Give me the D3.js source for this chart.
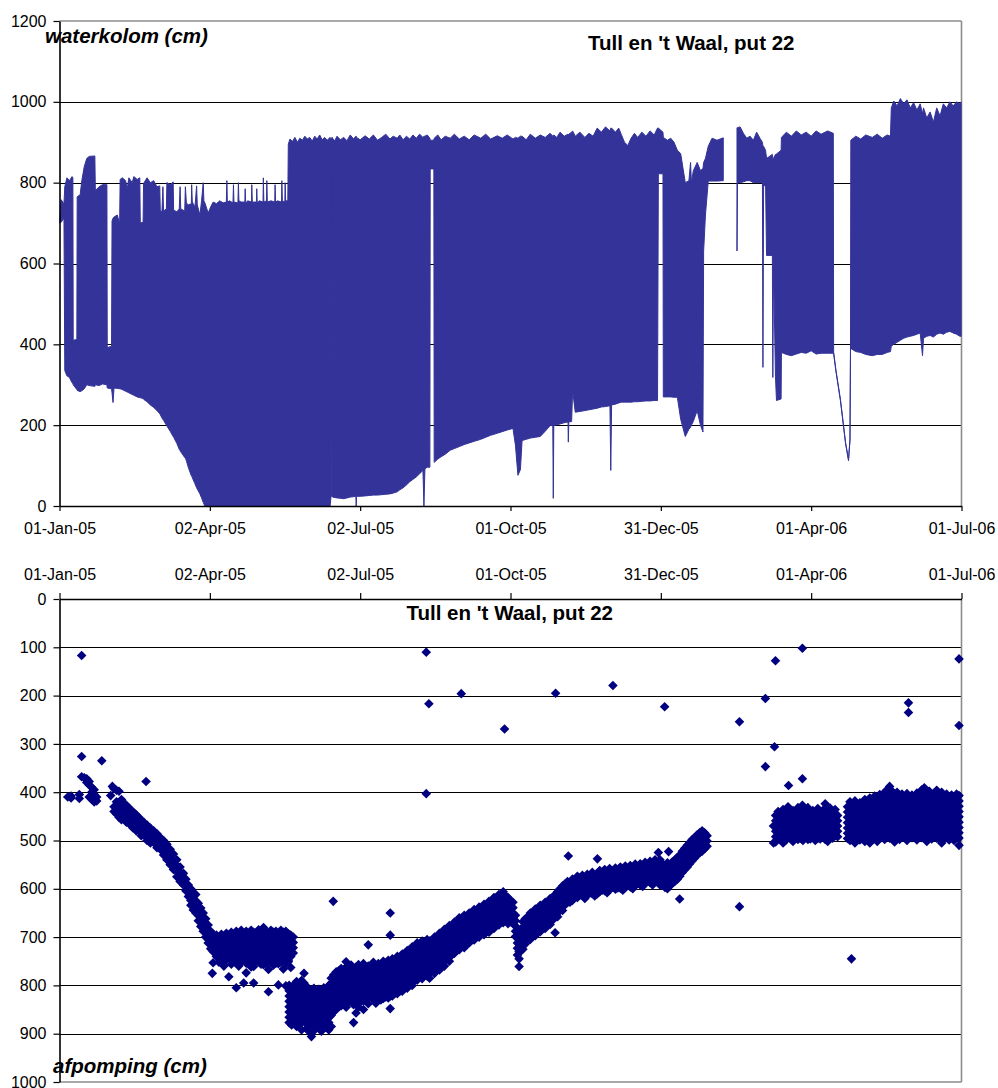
<!DOCTYPE html>
<html>
<head>
<meta charset="utf-8">
<script src="https://cdn.jsdelivr.net/npm/d3@7"></script>
<style>
  body { margin: 0; background: #fff; }
  text { font-family: "Liberation Sans", Arial, sans-serif; }
</style>
</head>
<body>
<svg id="chart" width="998" height="1088"></svg>
<script>
// ---- data ---------------------------------------------------------------
const titel = "Tull en 't Waal, put 22";
const tijdTicks = ["2005-01-01", "2005-04-02", "2005-07-02", "2005-10-01", "2005-12-31", "2006-04-01", "2006-07-01"];
const waterkolomTicks = [0, 200, 400, 600, 800, 1000, 1200];
const afpompingTicks = [0, 100, 200, 300, 400, 500, 600, 700, 800, 900, 1000];

// Waterkolom (cm): [dag sinds 1 jan 2005, maximum, minimum] van het snel
// wisselende pompsignaal; null = geen meting.
const waterkolom = [
  [0, 712, 700], [1, 758, 702], [2.7, 748, 712],
  [3.2, 790, 335], [4.5, 812, 322], [6, 805, 318], [7.6, 815, 305], [8.1, 812, 303],
  [8.3, 410, 300], [10.5, 412, 288],
  [10.7, 765, 286], [12.5, 770, 283], [13.5, 805, 285], [15, 840, 290], [16.5, 860, 300],
  [18, 865, 298], [21.4, 866, 296],
  [21.7, 780, 300], [24, 790, 298], [26, 795, 302], [28.7, 795, 300],
  [28.9, 392, 292], [31.5, 395, 290],
  [31.8, 705, 280], [32.4, 712, 256], [33, 715, 292], [35, 720, 291], [36.4, 698, 290],
  [36.7, 808, 290], [38, 812, 288], [40, 805, 284], [41, 785, 282], [42, 812, 280], [44, 800, 276],
  [45, 815, 274], [47, 808, 270], [48.6, 812, 268],
  [48.9, 700, 268], [50.6, 702, 266],
  [50.9, 798, 264], [53, 812, 258], [55, 800, 250], [57, 805, 244], [59, 790, 236], [60.7, 792, 228],
  [61, 732, 226], [62, 728, 218], [62.6, 790, 214], [63, 730, 212], [64.7, 735, 200],
  [65, 800, 198], [67, 795, 185], [68.8, 802, 172],
  [69.1, 732, 170], [71, 728, 155], [72.5, 735, 140], [73, 790, 137], [73.4, 735, 134], [75.8, 730, 120],
  [76.2, 790, 118], [76.8, 750, 112], [78, 745, 95], [79.8, 748, 75], [80, 795, 74], [80.4, 752, 70],
  [82, 740, 55], [83, 792, 45], [83.4, 745, 42], [85, 720, 30], [86, 755, 20], [87, 800, 9], [87.4, 755, 5],
  [88, 750, 0], [90, 725, 0], [91.5, 740, 0], [93, 752, 0],
  [95, 748, 0], [97, 755, 0], [99, 750, 0], [101, 752, 0], [101.3, 805, 0], [101.6, 752, 0],
  [103, 755, 0], [105, 750, 0], [105.3, 795, 0], [105.6, 752, 0], [108, 750, 0], [108.3, 800, 0], [108.6, 755, 0],
  [110, 752, 0], [112.2, 752, 0], [112.4, 785, 0], [112.7, 750, 0], [114, 755, 0],
  [116.2, 752, 0], [116.4, 795, 0], [116.7, 752, 0], [119.2, 752, 0], [119.4, 785, 0], [119.7, 750, 0],
  [121, 755, 0], [123.2, 752, 0], [123.4, 812, 0], [123.7, 752, 0], [125.3, 755, 0], [125.5, 805, 0],
  [125.8, 752, 0], [128, 755, 0], [130.3, 752, 0], [130.5, 795, 0], [130.8, 752, 0], [132, 755, 0],
  [134.4, 752, 0], [134.6, 805, 0], [134.9, 755, 0], [136.4, 752, 0], [136.6, 800, 0], [136.9, 755, 0],
  [138.2, 755, 0],
  [138.5, 895, 0], [139.5, 908, 0], [141, 902, 0], [142.5, 912, 0], [144, 900, 0], [145.5, 910, 0],
  [147, 905, 0], [148.5, 915, 0], [150, 908, 0], [151.5, 912, 0], [153, 903, 0], [154.5, 915, 0],
  [156, 908, 0], [157.5, 918, 0], [159, 906, 0], [160.5, 912, 0], [162, 905, 0], [163.8, 912, 0],
  [164.4, 908, 25], [164.9, 912, 24], [165.1, 912, 805], [165.3, 910, 22],
  [166.5, 903, 21], [168, 915, 20], [170, 906, 19], [172, 912, 18], [174, 904, 20], [176, 918, 22],
  [178, 908, 23], [179.4, 915, 24], [179.6, 915, 0], [179.8, 912, 24],
  [182, 906, 24], [185, 916, 25], [187.5, 908, 26], [190, 918, 27], [192.5, 905, 27], [195, 912, 28],
  [197.5, 920, 29], [200, 908, 30], [202, 915, 32], [204.4, 910, 35], [206, 918, 40], [208, 906, 45],
  [210, 915, 52], [212, 908, 60], [214, 918, 66], [216, 910, 72], [218, 920, 80], [220, 912, 88],
  [220.6, 915, 0], [221.2, 915, 92], [222.6, 918, 96], [224.2, 910, 96],
  [224.4, 905, 834], [226.6, 905, 834],
  [226.8, 910, 108], [229, 918, 116], [231, 906, 122], [233.5, 915, 128], [236.5, 910, 138],
  [239, 920, 142], [242, 908, 147], [245, 915, 152], [248, 906, 156], [251, 918, 160], [255, 910, 165],
  [258, 920, 170], [261, 908, 175], [265, 916, 180], [268, 910, 184], [271, 918, 188], [274.5, 908, 192],
  [276, 912, 150], [277.5, 910, 76], [279, 915, 90],
  [280, 915, 162], [282.5, 906, 165], [285, 920, 168], [288, 910, 170], [291, 918, 172], [294, 912, 185],
  [297, 922, 199], [298.6, 915, 199], [298.9, 915, 19], [299.2, 918, 199],
  [301, 912, 201], [303, 925, 203], [305.5, 915, 206], [307.8, 920, 208], [308, 918, 158], [308.3, 920, 208],
  [310, 925, 209], [310.6, 928, 286], [312.2, 915, 232], [315, 925, 234], [318, 912, 236], [320.5, 922, 238],
  [323, 915, 240], [325.5, 935, 242], [328, 925, 245], [330.5, 938, 246],
  [333.2, 928, 248], [333.7, 935, 88], [334.2, 935, 250],
  [336.5, 925, 252], [338.5, 935, 255], [340, 920, 257], [342, 900, 257], [344, 892, 257], [346, 910, 257],
  [348, 922, 258], [350, 912, 258], [352.5, 925, 259], [355, 915, 260], [357.5, 928, 260], [360, 918, 261],
  [362, 935, 261],
  [362.5, 935, 822], [365.3, 925, 822],
  [365.5, 912, 270], [368, 905, 270], [370, 910, 270], [372, 900, 269], [374, 880, 269], [376, 872, 215],
  [378.8, 800, 172], [381, 805, 190], [382, 850, 195], [382.5, 800, 200], [383.7, 830, 210], [386, 850, 236],
  [388, 830, 200], [389.5, 835, 183],
  [389.9, 850, 630], [391, 860, 720], [392.7, 890, 804], [395, 910, 804], [398, 905, 804], [401.8, 911, 805],
  [402, null, null],
  [410.1, 936, 631], [410.4, 936, 800],
  [412, 938, 800], [414, 922, 802], [416, 910, 805], [418, 915, 805], [420, 905, 800], [422, 925, 800],
  [424, 910, 800], [425.5, 900, 800],
  [425.8, 890, 343], [426.2, 890, 790], [427.4, 880, 795],
  [428, 860, 620], [431.5, 870, 620], [431.8, 860, 318], [432.2, 860, 600],
  [433.4, 870, 320], [434, 871, 261], [436.8, 880, 265],
  [437, 912, 380], [440, 925, 375], [443, 915, 372], [446, 928, 376], [449, 918, 380], [452, 925, 378],
  [455, 915, 384], [458, 928, 376], [461, 920, 378], [465, 928, 378], [468.4, 922, 378],
  [468.6, 381, 377], [470, 336, 333], [472.7, 264, 261], [475.8, 158, 155], [477.6, 115, 112],
  [478.5, 166, 163], [478.8, 388, 385],
  [479, 905, 390], [482, 915, 382], [485, 908, 380], [488, 918, 375], [492, 912, 372], [495, 920, 375],
  [498, 910, 375], [501, 918, 380], [503, 915, 382],
  [503.5, 985, 395], [505, 1002, 400], [507, 990, 405], [509, 1008, 410], [511, 995, 415], [513, 1005, 418],
  [515, 985, 420], [517, 998, 422], [519, 980, 425], [521, 995, 428], [522.4, 970, 372], [523, 985, 415],
  [525, 960, 420], [527, 975, 422], [529, 950, 418], [531, 985, 425], [533, 965, 428], [535, 995, 425],
  [537, 985, 430], [539, 1000, 432], [541, 990, 428], [543, 1000, 425], [545, 995, 420], [546, 1000, 420]
];

// Afpomping (cm): [dag sinds 1 jan 2005, waarden op die dag...]
const afpomping = [
  [5, 410], [7, 412, 408], [12, 405, 413], [13.4, 117, 326, 368], [15, 370],
  [16.5, 372, 380], [18, 378, 385, 410], [19.5, 390, 400, 415], [21, 395, 405, 420],
  [22.5, 410, 418], [25.6, 335], [31, 407], [32, 388], [33, 393, 430, 440],
  [34.5, 396, 420, 432, 445], [36, 398, 425, 438, 452], [37.5, 415, 428, 442, 457],
  [39, 422, 434, 446, 455], [40.5, 428, 440, 452, 462], [42, 432, 445, 458], [43.5, 438, 450, 462, 470],
  [44.5, 474], [45, 442, 455, 466], [46.5, 447, 460, 472, 480], [48, 452, 465, 478],
  [49.5, 458, 470, 482, 490], [51, 462, 475, 488], [52.4, 378], [53, 468, 480, 492, 500],
  [55, 474, 486, 498, 505], [57, 480, 492, 504], [59, 486, 498, 510, 515], [61, 494, 506, 518],
  [63, 500, 512, 524, 530], [65, 508, 520, 532, 540], [67, 518, 530, 542, 550], [69, 528, 540, 552, 560],
  [71, 540, 552, 564, 575], [73, 555, 567, 579, 585], [75, 568, 580, 592], [76.5, 580, 592, 604],
  [78, 592, 604, 616], [79.5, 600, 612, 624, 634], [81, 608, 620, 632, 644], [82.5, 612, 625, 638, 650],
  [84, 630, 642, 655, 666], [85.5, 640, 652, 665, 678], [87, 650, 662, 675, 688], [88.5, 662, 674, 686, 700],
  [90, 675, 687, 699, 712], [91.5, 688, 700, 712, 724], [92.5, 775], [93, 694, 706, 718, 730, 753],
  [95, 696, 707, 718, 729, 740], [96.5, 702, 713, 724, 735, 752], [98, 694, 705, 716, 727, 738, 749],
  [99.5, 700, 711, 722, 733, 744, 760], [101, 692, 703, 714, 725, 736, 747],
  [102.5, 697, 708, 719, 730, 741, 782], [104, 690, 701, 712, 723, 734, 745, 756],
  [105.5, 695, 706, 717, 728, 739, 750], [107, 688, 699, 710, 721, 732, 743, 754, 805],
  [108.5, 694, 705, 716, 727, 738, 749, 760], [110, 686, 697, 708, 719, 730, 741, 752],
  [111.5, 692, 703, 714, 725, 736, 747, 795], [113, 688, 699, 710, 721, 732, 743, 754, 774],
  [114.5, 694, 705, 716, 727, 738, 749], [116, 686, 697, 708, 719, 730, 741, 752, 762],
  [117.5, 690, 701, 712, 723, 734, 745, 761, 795], [119, 695, 706, 717, 728, 739, 750],
  [120.5, 685, 696, 707, 718, 729, 740, 751], [122, 690, 701, 712, 723, 734, 745, 756],
  [123.5, 680, 692, 703, 714, 725, 736, 747, 757], [125, 688, 699, 710, 721, 732, 743, 754],
  [126.5, 693, 704, 715, 726, 737, 748, 767, 813], [128, 686, 697, 708, 719, 730, 741, 752],
  [129.5, 690, 701, 712, 723, 734, 745, 758], [131, 688, 699, 710, 721, 732, 743, 754],
  [132.5, 693, 704, 715, 726, 737, 748, 755, 799], [134, 686, 697, 708, 719, 730, 741, 752],
  [135.5, 690, 701, 712, 723, 734, 745, 766], [137, 688, 699, 710, 721, 732, 743, 754, 801],
  [138.5, 693, 704, 715, 726, 737, 748, 751], [140, 696, 707, 718, 729, 740, 763], [141.5, 700, 711, 722, 733],
  [139, 800, 811, 822, 833, 844, 855, 866, 877], [140.5, 806, 817, 828, 839, 850, 861, 872, 882],
  [142, 798, 809, 820, 831, 842, 853, 864, 875], [143.5, 792, 803, 814, 825, 836, 847, 858, 869, 885],
  [145, 797, 808, 819, 830, 841, 852, 863, 874], [146.5, 790, 801, 812, 823, 834, 845, 856, 867, 878, 892],
  [148, 775, 795, 806, 817, 828, 839, 850, 861, 872], [149.5, 802, 813, 824, 835, 846, 857, 868, 879, 890],
  [151, 808, 819, 830, 841, 852, 863, 874, 885, 895], [152.5, 812, 823, 834, 845, 856, 867, 878, 889, 906],
  [154, 806, 817, 828, 839, 850, 861, 872, 883, 894], [155.5, 815, 826, 837, 848, 859, 870, 881],
  [157, 808, 819, 830, 841, 852, 863, 874, 885], [158.5, 812, 823, 834, 845, 856, 867, 878, 889, 895],
  [160, 805, 816, 827, 838, 849, 860, 871, 882], [161.5, 810, 821, 832, 843, 854, 865, 876, 887],
  [163, 800, 811, 822, 833, 844, 855, 866, 877, 892], [164.5, 785, 796, 807, 818, 829, 840, 851, 862, 885],
  [165.7, 626], [166, 778, 789, 800, 811, 822, 833, 844, 855], [167.5, 772, 783, 794, 805, 816, 827, 838, 849],
  [169, 770, 781, 792, 803, 814, 825, 836, 845],
  [170.5, 765, 776, 787, 798, 809, 820, 831, 842], [172, 770, 781, 792, 803, 814, 825, 836],
  [173.5, 751, 762, 773, 784, 795, 806, 817, 828, 845], [175, 768, 779, 790, 801, 812, 823, 834],
  [176.5, 758, 769, 780, 791, 802, 813, 824, 835], [178, 770, 781, 792, 803, 814, 825, 840, 877],
  [179.5, 762, 773, 784, 795, 806, 817, 828, 857], [181, 757, 768, 779, 790, 801, 812, 823, 834, 845],
  [182.5, 768, 779, 790, 801, 812, 823, 833], [184, 755, 766, 777, 788, 799, 810, 821, 832, 850],
  [185.5, 765, 776, 787, 798, 809, 820, 831], [186.9, 716, 760, 771, 782, 793, 804, 815, 826, 838],
  [188.5, 768, 779, 790, 801, 812, 823], [190, 752, 763, 774, 785, 796, 807, 818, 829],
  [191.5, 760, 771, 782, 793, 804, 815, 826, 837], [193, 755, 766, 777, 788, 799, 810, 821],
  [194.5, 762, 773, 784, 795, 806, 817, 830], [196, 750, 761, 772, 783, 794, 805, 816, 827],
  [197.5, 758, 769, 780, 791, 802, 813, 824], [199, 748, 759, 770, 781, 792, 803, 814, 826],
  [200.2, 650, 696, 756, 767, 778, 789, 800, 811, 822, 848], [201.5, 745, 756, 767, 778, 789, 800, 811, 822],
  [203, 752, 763, 774, 785, 796, 807, 816], [204.5, 740, 751, 762, 773, 784, 795, 806, 817],
  [206, 746, 757, 768, 779, 790, 801, 812], [207.5, 735, 746, 757, 768, 779, 790, 801, 812],
  [209, 740, 751, 762, 773, 784, 795, 805], [210.5, 728, 739, 750, 761, 772, 783, 794, 806],
  [212, 732, 743, 754, 765, 776, 787, 796], [213.5, 720, 731, 742, 753, 764, 775, 786, 800],
  [215, 725, 736, 747, 758, 769, 780, 790], [216.5, 712, 723, 734, 745, 756, 767, 778, 789],
  [218, 718, 729, 740, 751, 762, 773, 782], [219.5, 708, 719, 730, 741, 752, 763, 774, 786],
  [221, 712, 723, 734, 745, 756, 767, 775], [222, 110, 403], [222.5, 705, 716, 727, 738, 749, 760, 771, 780],
  [223.6, 217],
  [224, 708, 719, 730, 741, 752, 763, 774, 785], [225.5, 712, 723, 734, 745, 756, 767],
  [227, 700, 711, 722, 733, 744, 755, 766, 775], [228.5, 703, 714, 725, 736, 747, 758],
  [230, 692, 703, 714, 725, 736, 747, 758, 768], [231.5, 695, 706, 717, 728, 739, 750],
  [233, 684, 695, 706, 717, 728, 739, 750, 760], [234.5, 688, 699, 710, 721, 732, 743],
  [236, 676, 687, 698, 709, 720, 731, 742, 750], [237.5, 680, 691, 702, 713, 724, 735],
  [239, 669, 680, 691, 702, 713, 724, 734], [240.5, 672, 683, 694, 705, 716, 727],
  [242, 660, 671, 682, 693, 704, 715, 726], [243.2, 196], [243.5, 666, 677, 688, 699, 710, 720],
  [245, 655, 666, 677, 688, 699, 710, 722], [246.5, 660, 671, 682, 693, 704, 714],
  [248, 650, 661, 672, 683, 694, 705, 712], [249.5, 655, 666, 677, 688, 699],
  [251, 643, 654, 665, 676, 687, 698, 706], [252.5, 648, 659, 670, 681, 692],
  [254, 638, 649, 660, 671, 682, 693, 700], [255.5, 645, 656, 667, 678, 689],
  [257, 632, 643, 654, 665, 676, 687, 695], [258.5, 638, 649, 660, 671, 682],
  [260, 626, 637, 648, 659, 670, 681, 690], [261.5, 630, 641, 652, 663, 674],
  [263, 618, 629, 640, 651, 662, 673, 682], [264.5, 622, 633, 644, 655, 666],
  [266, 612, 623, 634, 645, 656, 667, 675], [267.5, 616, 627, 638, 649, 660],
  [268.6, 606, 617, 628, 639, 650, 661, 670], [269.4, 269], [270, 614, 625, 636, 647, 658],
  [271.5, 618, 629, 640, 651, 662, 672], [273, 624, 635, 646, 657, 668], [274.5, 628, 639, 650, 661, 672],
  [276, 655, 666, 677, 688, 699], [277.2, 690, 701, 712, 723, 737],
  [278.2, 700, 715, 730, 745, 761], [279.2, 685, 696, 707, 718, 729],
  [280.5, 668, 679, 690, 701, 712, 725], [282, 662, 673, 684, 695, 706, 714], [283.5, 658, 669, 680, 691, 702],
  [285, 650, 661, 672, 683, 694, 705], [286.5, 654, 665, 676, 687, 694], [288, 642, 653, 664, 675, 686, 697],
  [289.5, 646, 657, 668, 679, 686], [291, 634, 645, 656, 667, 678, 689], [292.5, 640, 651, 662, 673, 680],
  [294, 628, 639, 650, 661, 672, 682], [295.5, 632, 643, 654, 665, 672], [297, 620, 631, 642, 653, 664, 674],
  [298.5, 624, 635, 646, 657, 665], [300, 612, 623, 634, 645, 656, 691], [300.3, 195],
  [301.5, 606, 617, 628, 639, 650, 658], [303, 600, 611, 622, 633, 644], [304.5, 594, 605, 616, 627, 638, 645],
  [306, 590, 601, 612, 623, 632], [307.5, 585, 596, 607, 618, 629], [308, 532],
  [309, 588, 599, 610, 621, 628], [310.5, 580, 591, 602, 613, 624],
  [312, 584, 595, 606, 615], [313.5, 574, 585, 596, 607, 618], [315, 580, 591, 602, 613],
  [316.5, 572, 583, 594, 605, 614], [318, 578, 589, 600, 611, 620], [319.5, 570, 581, 592, 603, 612],
  [321, 576, 587, 598, 609], [322.5, 566, 577, 588, 599, 610], [324, 574, 585, 596, 607, 615],
  [325.6, 538, 568, 579, 590, 601, 610], [327, 562, 573, 584, 595, 606], [328.5, 570, 581, 592, 603],
  [330, 560, 571, 582, 593, 604], [331.5, 566, 577, 588, 599, 608], [333, 558, 569, 580, 591, 602],
  [335, 179, 564, 575, 586, 597], [336.5, 557, 568, 579, 590, 601], [338, 565, 576, 587, 598],
  [339.5, 555, 566, 577, 588, 599], [341, 562, 573, 584, 595, 603], [342.5, 553, 564, 575, 586, 597],
  [344, 560, 571, 582, 593], [345.5, 552, 563, 574, 585, 596], [347, 558, 569, 580, 591, 600],
  [348.5, 549, 560, 571, 582, 593], [350, 556, 567, 578, 589], [351.5, 548, 559, 570, 581, 592],
  [353, 553, 564, 575, 586, 595], [354.5, 545, 556, 567, 578, 589], [356, 552, 563, 574, 585],
  [357.5, 543, 554, 565, 576, 587], [359, 550, 561, 572, 583, 592], [360.5, 540, 551, 562, 573, 584],
  [362, 548, 559, 570, 581], [362.5, 525], [363.5, 540, 551, 562, 573, 584, 592],
  [365, 548, 559, 570, 581, 592], [366.3, 223],
  [366.5, 552, 563, 574, 585, 597], [368, 546, 557, 568, 579, 590, 600], [368.7, 523],
  [369.5, 553, 564, 575, 586, 594], [371, 544, 555, 566, 577, 588], [372.5, 540, 551, 562, 573, 585],
  [374, 535, 546, 557, 568, 580], [375.4, 621], [375.5, 530, 541, 552, 563, 574],
  [377, 522, 533, 544, 555, 566], [378.5, 516, 527, 538, 549, 560], [380, 510, 521, 532, 543, 555],
  [381.5, 504, 515, 526, 537, 548], [383, 498, 509, 520, 531, 542], [384.5, 494, 505, 516, 527, 536],
  [386, 488, 499, 510, 521, 530], [387.5, 484, 495, 506, 517, 526], [389, 480, 491, 502, 513, 522],
  [390.5, 484, 495, 506, 517], [392, 490, 501, 512],
  [411.6, 254, 637], [427.3, 206, 347], [432.8, 306], [433.4, 128], [449.7, 102, 372, 427],
  [432.2, 470, 505], [433.5, 448, 459, 470, 481, 492, 503], [435, 440, 451, 462, 473, 484, 495],
  [436.5, 452, 463, 474, 485, 496], [438, 436, 447, 458, 469, 480, 491, 505],
  [439.5, 445, 456, 467, 478, 489, 500], [441, 430, 441, 452, 463, 474, 485, 494], [441.3, 386],
  [442.5, 448, 459, 470, 481, 492], [444, 438, 449, 460, 471, 482, 493, 502],
  [445.5, 444, 455, 466, 477, 488], [447, 432, 443, 454, 465, 476, 487, 498],
  [448.5, 440, 451, 462, 473, 484, 495], [450, 436, 447, 458, 469, 480, 491, 500],
  [451.5, 445, 456, 467, 478, 489], [453, 432, 443, 454, 465, 476, 487, 498],
  [454.5, 442, 453, 464, 475, 486, 497], [456, 438, 449, 460, 471, 482, 490],
  [457.5, 446, 457, 468, 479, 490, 500], [459, 434, 445, 456, 467, 478, 489, 496],
  [460.5, 442, 453, 464, 475, 486, 497], [462, 438, 449, 460, 471, 482],
  [463.5, 424, 435, 446, 457, 468, 479, 490, 498], [465, 440, 451, 462, 473, 484, 495, 502],
  [466.5, 433, 444, 455, 466, 477, 488], [468, 441, 452, 463, 474, 485, 495],
  [469.5, 436, 447, 458, 469, 480, 490], [471, 448, 459, 470, 481, 492],
  [477, 430, 441, 452, 463, 474, 485, 496], [478.5, 420, 431, 442, 453, 464, 475, 486, 500],
  [479.4, 745], [480, 432, 443, 454, 465, 476, 487, 495], [481.5, 418, 429, 440, 451, 462, 473, 484, 495, 505],
  [483, 428, 439, 450, 461, 472, 483, 494], [484.5, 422, 433, 444, 455, 466, 477, 488, 499],
  [486, 430, 441, 452, 463, 474, 485], [487.5, 415, 426, 437, 448, 459, 470, 481, 492, 502],
  [489, 425, 436, 447, 458, 469, 480, 491], [490.5, 412, 423, 434, 445, 456, 467, 478, 489, 505],
  [492, 420, 431, 442, 453, 464, 475, 486, 497], [493.5, 408, 419, 430, 441, 452, 463, 474, 485],
  [495, 415, 426, 437, 448, 459, 470, 481, 492, 502], [496.5, 405, 416, 427, 438, 449, 460, 471, 482, 493],
  [498, 410, 421, 432, 443, 454, 465, 476, 487], [499.5, 400, 411, 422, 433, 444, 455, 466, 477, 488, 498],
  [501, 395, 406, 417, 428, 439, 450, 461, 472, 483], [502.5, 388, 399, 410, 421, 432, 443, 454, 465, 476, 487, 495],
  [504, 398, 409, 420, 431, 442, 453, 464, 475, 486], [505.5, 405, 416, 427, 438, 449, 460, 471, 482, 493, 503],
  [507, 400, 411, 422, 433, 444, 455, 466, 477, 488], [508.5, 412, 423, 434, 445, 456, 467, 478, 489, 498],
  [510, 404, 415, 426, 437, 448, 459, 470, 481, 492], [511.5, 415, 426, 437, 448, 459, 470, 481, 490],
  [513, 403, 414, 425, 436, 447, 458, 469, 480, 491, 500], [513.9, 215, 235],
  [514.5, 412, 423, 434, 445, 456, 467, 478, 489], [516, 406, 417, 428, 439, 450, 461, 472, 483, 494],
  [517.5, 418, 429, 440, 451, 462, 473, 484, 492], [519, 402, 413, 424, 435, 446, 457, 468, 479, 490, 499],
  [520.5, 410, 421, 432, 443, 454, 465, 476, 487], [522, 395, 406, 417, 428, 439, 450, 461, 472, 483, 494],
  [523.5, 391, 402, 413, 424, 435, 446, 457, 468, 479, 488], [525, 404, 415, 426, 437, 448, 459, 470, 481, 492, 502],
  [526.5, 398, 409, 420, 431, 442, 453, 464, 475, 486], [528, 410, 421, 432, 443, 454, 465, 476, 487, 497],
  [529.5, 402, 413, 424, 435, 446, 457, 468, 479, 490], [531, 396, 407, 418, 429, 440, 451, 462, 473, 484, 495],
  [532.5, 408, 419, 430, 441, 452, 463, 474, 485], [534, 400, 411, 422, 433, 444, 455, 466, 477, 488, 500, 505],
  [535.5, 412, 423, 434, 445, 456, 467, 478, 489], [537, 404, 415, 426, 437, 448, 459, 470, 481, 492],
  [538.5, 414, 425, 436, 447, 458, 469, 480, 490, 499], [540, 406, 417, 428, 439, 450, 461, 472, 483, 494],
  [541.5, 410, 421, 432, 443, 454, 465, 476, 487, 500], [543, 404, 415, 426, 437, 448, 459, 470, 481, 492],
  [544.5, 124, 262, 407, 418, 429, 440, 451, 462, 473, 484, 495, 510]
];

// ---- helpers ------------------------------------------------------------
const start = Date.UTC(2005, 0, 1);
const dagNaarDatum = dag => new Date(start + dag * 864e5);
const parseDatum = d3.utcParse("%Y-%m-%d");
const fmtDatum = d3.utcFormat("%d-%b-%y");
const fmtGetal = d3.format("d");

const svg = d3.select("#chart");
const left = 59.5, right = 961.5;
const randKleur = "#8c8c8c";
const fontSize = 16;

const x = d3.scaleUtc()
  .domain([parseDatum(tijdTicks[0]), parseDatum(tijdTicks[tijdTicks.length - 1])])
  .range([left, right]);

function styleAxis(g) {
  g.attr("font-size", fontSize).attr("font-family", '"Liberation Sans", Arial, sans-serif');
  g.selectAll("path.domain").attr("stroke", "#000").attr("stroke-width", 1.6);
  g.selectAll(".tick line").attr("stroke", "#000").attr("stroke-width", 1.2);
  g.selectAll(".tick text").attr("fill", "#000");
}

// ---- bovenste grafiek: waterkolom -------------------------------------------
const yTop = d3.scaleLinear().domain([0, 1200]).range([506, 21]);

const gTop = svg.append("g");
gTop.selectAll("line.grid")
  .data(waterkolomTicks.filter(v => v > 0 && v < 1200))
  .join("line")
  .attr("class", "grid")
  .attr("x1", left).attr("x2", right)
  .attr("y1", d => Math.round(yTop(d)) + 0.5).attr("y2", d => Math.round(yTop(d)) + 0.5)
  .attr("stroke", "#000").attr("stroke-width", 1);

gTop.append("line").attr("x1", left).attr("x2", right).attr("y1", 21).attr("y2", 21)
  .attr("stroke", randKleur).attr("stroke-width", 1.6);
gTop.append("line").attr("x1", right).attr("x2", right).attr("y1", 21).attr("y2", 506)
  .attr("stroke", randKleur).attr("stroke-width", 1.6);

svg.append("clipPath").attr("id", "clipTop")
  .append("rect").attr("x", left).attr("y", 21).attr("width", right - left).attr("height", 485);

const area = d3.area()
  .defined(d => d[1] != null)
  .x(d => x(dagNaarDatum(d[0])))
  .y0(d => yTop(d[2]))
  .y1(d => yTop(d[1]));

gTop.append("path")
  .datum(waterkolom)
  .attr("clip-path", "url(#clipTop)")
  .attr("d", area)
  .attr("fill", "#333399")
  .attr("stroke", "#333399")
  .attr("stroke-width", 1)
  .attr("stroke-linejoin", "round");

gTop.append("g")
  .attr("transform", "translate(0,506)")
  .call(d3.axisBottom(x).tickValues(tijdTicks.map(parseDatum)).tickFormat(fmtDatum)
    .tickSize(5).tickSizeOuter(0).tickPadding(12))
  .call(styleAxis);

gTop.append("g")
  .attr("transform", `translate(${left},0)`)
  .call(d3.axisLeft(yTop).tickValues(waterkolomTicks).tickFormat(fmtGetal)
    .tickSize(6).tickSizeOuter(0).tickPadding(7))
  .call(styleAxis);

gTop.append("text")
  .attr("x", 45).attr("y", 43)
  .attr("font-size", 20.5).attr("font-weight", "bold").attr("font-style", "italic")
  .text("waterkolom (cm)");
gTop.append("text")
  .attr("x", 588).attr("y", 50)
  .attr("font-size", 20.5).attr("font-weight", "bold")
  .text(titel);

// ---- onderste grafiek: afpomping --------------------------------------------
const yBot = d3.scaleLinear().domain([0, 1000]).range([599, 1082]);

const gBot = svg.append("g");
gBot.selectAll("line.grid")
  .data(afpompingTicks.filter(v => v > 0 && v < 1000))
  .join("line")
  .attr("class", "grid")
  .attr("x1", left).attr("x2", right)
  .attr("y1", d => Math.round(yBot(d)) + 0.5).attr("y2", d => Math.round(yBot(d)) + 0.5)
  .attr("stroke", "#000").attr("stroke-width", 1);

gBot.append("line").attr("x1", left).attr("x2", right).attr("y1", 1082).attr("y2", 1082)
  .attr("stroke", randKleur).attr("stroke-width", 1.6);
gBot.append("line").attr("x1", right).attr("x2", right).attr("y1", 599).attr("y2", 1082)
  .attr("stroke", randKleur).attr("stroke-width", 1.6);

const punten = afpomping.flatMap(rij => rij.slice(1).map(v => ({ dag: rij[0], waarde: v })));
const r = 4.8;
gBot.append("g")
  .selectAll("path")
  .data(punten)
  .join("path")
  .attr("transform", d => `translate(${x(dagNaarDatum(d.dag))},${yBot(d.waarde)})`)
  .attr("d", `M0,${-r}L${r},0L0,${r}L${-r},0Z`)
  .attr("fill", "#000080");

gBot.append("g")
  .attr("transform", "translate(0,599)")
  .call(d3.axisTop(x).tickValues(tijdTicks.map(parseDatum)).tickFormat(fmtDatum)
    .tickSize(6).tickSizeOuter(0).tickPadding(13))
  .call(styleAxis);

gBot.append("g")
  .attr("transform", `translate(${left},0)`)
  .call(d3.axisLeft(yBot).tickValues(afpompingTicks).tickFormat(fmtGetal)
    .tickSize(6).tickSizeOuter(0).tickPadding(7))
  .call(styleAxis);

gBot.append("text")
  .attr("x", 406.5).attr("y", 620)
  .attr("font-size", 20.5).attr("font-weight", "bold")
  .text(titel);
gBot.append("text")
  .attr("x", 53).attr("y", 1073)
  .attr("font-size", 20.5).attr("font-weight", "bold").attr("font-style", "italic")
  .text("afpomping (cm)");
</script>
</body>
</html>
